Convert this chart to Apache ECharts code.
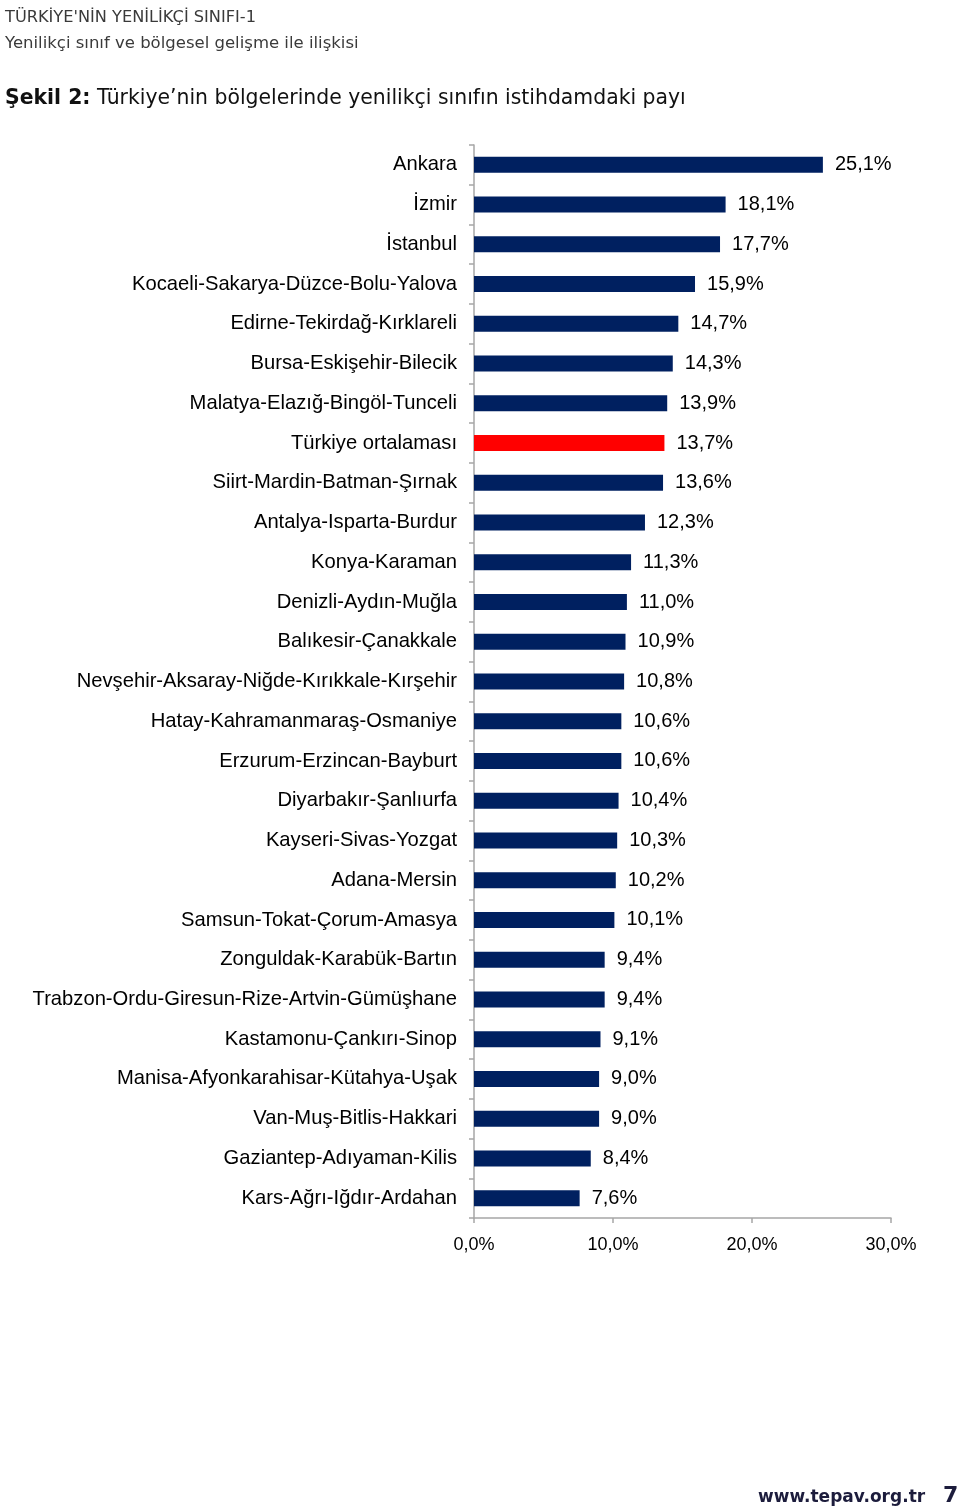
<!DOCTYPE html>
<html><head><meta charset="utf-8">
<script src="https://cdn.jsdelivr.net/npm/echarts@6/dist/echarts.min.js"></script>
<style>html,body{margin:0;padding:0;background:#fff}#c{width:960px;height:1511px}</style>
</head><body><div id="c"></div>
<script>
const categories = ["Ankara","İzmir","İstanbul","Kocaeli-Sakarya-Düzce-Bolu-Yalova","Edirne-Tekirdağ-Kırklareli","Bursa-Eskişehir-Bilecik","Malatya-Elazığ-Bingöl-Tunceli","Türkiye ortalaması","Siirt-Mardin-Batman-Şırnak","Antalya-Isparta-Burdur","Konya-Karaman","Denizli-Aydın-Muğla","Balıkesir-Çanakkale","Nevşehir-Aksaray-Niğde-Kırıkkale-Kırşehir","Hatay-Kahramanmaraş-Osmaniye","Erzurum-Erzincan-Bayburt","Diyarbakır-Şanlıurfa","Kayseri-Sivas-Yozgat","Adana-Mersin","Samsun-Tokat-Çorum-Amasya","Zonguldak-Karabük-Bartın","Trabzon-Ordu-Giresun-Rize-Artvin-Gümüşhane","Kastamonu-Çankırı-Sinop","Manisa-Afyonkarahisar-Kütahya-Uşak","Van-Muş-Bitlis-Hakkari","Gaziantep-Adıyaman-Kilis","Kars-Ağrı-Iğdır-Ardahan"];
const values = [25.1,18.1,17.7,15.9,14.7,14.3,13.9,13.7,13.6,12.3,11.3,11.0,10.9,10.8,10.6,10.6,10.4,10.3,10.2,10.1,9.4,9.4,9.1,9.0,9.0,8.4,7.6];
const highlight = "Türkiye ortalaması";
const xTicks = [0,10,20,30];

const fmt = v => v.toFixed(1).replace('.', ',') + '%';
const chart = echarts.init(document.getElementById('c'), null, {renderer:'canvas'});
chart.setOption({
  animation:false,
  title:[
    {text:"TÜRKİYE'NİN YENİLİKÇİ SINIFI-1", left:5, top:10, padding:0, textStyle:{fontFamily:'DejaVu Sans',fontWeight:'normal',fontSize:16.2,color:'#3a3a3a'}},
    {text:"Yenilikçi sınıf ve bölgesel gelişme ile ilişkisi", left:5, top:35, padding:0, textStyle:{fontFamily:'DejaVu Sans',fontWeight:'normal',fontSize:16.5,color:'#3a3a3a'}},
    {text:"{b|Şekil 2:} Türkiye’nin bölgelerinde yenilikçi sınıfın istihdamdaki payı", left:5, top:89, padding:0, textStyle:{rich:{b:{fontFamily:'DejaVu Sans',fontWeight:'bold',fontSize:20.4,color:'#111'}},fontFamily:'DejaVu Sans',fontWeight:'normal',fontSize:20.4,color:'#111'}},
    {text:"www.tepav.org.tr", left:758, top:1489, padding:0, textStyle:{fontFamily:'DejaVu Sans',fontWeight:'bold',fontSize:17,color:'#1c1c3c'}},
    {text:"7", left:943, top:1485, padding:0, textStyle:{fontFamily:'DejaVu Sans',fontWeight:'bold',fontSize:22,color:'#1c1c3c'}}
  ],
  grid:{left:474, right:69, top:145, bottom:293, containLabel:false},
  xAxis:{type:'value', min:0, max:30, interval:10,
    axisLine:{show:true, lineStyle:{color:'#a6a6a6', width:1.5}},
    axisTick:{show:true, length:5, lineStyle:{color:'#a6a6a6', width:1.5}},
    splitLine:{show:false},
    axisLabel:{margin:18, fontFamily:'Liberation Sans', fontSize:18, color:'#000', formatter:v=>fmt(v)}
  },
  yAxis:{type:'category', data:categories, inverse:true,
    axisLine:{show:true, lineStyle:{color:'#a6a6a6', width:1.5}},
    axisTick:{show:true, length:5, alignWithLabel:false, lineStyle:{color:'#a6a6a6', width:1.5}},
    axisLabel:{margin:17, fontFamily:'Liberation Sans', fontSize:20.2, color:'#000'}
  },
  series:[{type:'bar', barWidth:16,
    data:values.map((v,i)=>({value:v, itemStyle:{color: categories[i]===highlight ? '#ff0000' : '#002060'}})),
    label:{show:true, position:'right', distance:12, fontFamily:'Liberation Sans', fontSize:20, color:'#000', formatter:p=>fmt(p.value)}
  }]
});
</script></body></html>
